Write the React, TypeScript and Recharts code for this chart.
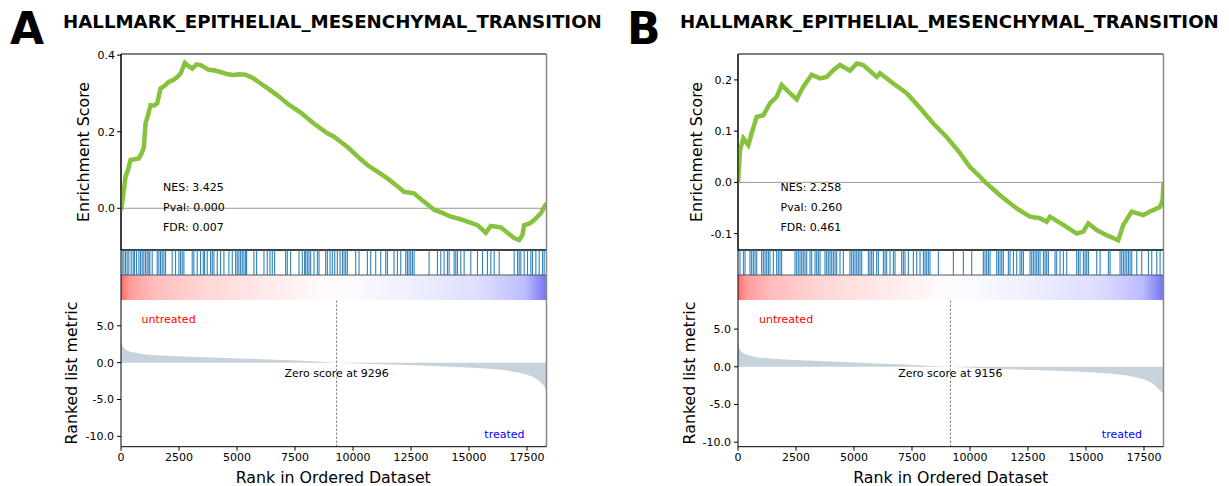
import React from 'react';
import {
  ComposedChart,
  LineChart,
  Line,
  Area,
  Scatter,
  XAxis,
  YAxis,
  ReferenceLine,
  ReferenceArea,
} from 'recharts';

const N_GENES = 18340;
const GENE_SET = 'HALLMARK_EPITHELIAL_MESENCHYMAL_TRANSITION';
const rankTicks = [0, 2500, 5000, 7500, 10000, 12500, 15000, 17500];
const metricTicks = [-10, -5, 0, 5];

// panel A: running enrichment score [rank, ES]
const esA: [number, number][] = [
  [0, 0], [20, 0.0], [194, 0.082], [300, 0.1], [410, 0.126], [768, 0.13], [900, 0.145], [985, 0.16],
  [1057, 0.222], [1150, 0.24], [1273, 0.269], [1420, 0.268], [1560, 0.274], [1704, 0.313], [1880, 0.32],
  [2062, 0.33], [2250, 0.335], [2424, 0.343], [2567, 0.352], [2754, 0.38], [2900, 0.372], [3070, 0.365],
  [3250, 0.376], [3430, 0.374], [3600, 0.368], [3788, 0.362], [4050, 0.36], [4292, 0.356], [4600, 0.35],
  [4866, 0.348], [5100, 0.35], [5371, 0.349], [5700, 0.34], [6018, 0.326], [6400, 0.31], [6739, 0.295],
  [7250, 0.27], [7744, 0.25], [8300, 0.222], [8895, 0.196], [9180, 0.187], [9800, 0.158], [10332, 0.128],
  [10622, 0.113], [11100, 0.094], [11484, 0.078], [11900, 0.058], [12200, 0.043], [12632, 0.039],
  [13000, 0.02], [13494, -0.004], [13850, -0.012], [14215, -0.022], [14600, -0.028], [14935, -0.035],
  [15366, -0.044], [15724, -0.064], [15940, -0.046], [16372, -0.05], [16700, -0.066], [16946, -0.078],
  [17162, -0.083], [17300, -0.07], [17377, -0.044], [17600, -0.04], [17808, -0.031], [18098, -0.013],
  [18270, 0.006], [18340, 0.0],
];

// panel A: hit positions (ranks)
const hitsA = [
  50, 122, 194, 266, 338, 439, 525, 582, 669, 769, 841, 913, 985, 1057, 1129, 1201, 1244, 1345,
  1560, 1632, 1704, 1776, 1848, 1920, 2207, 2351, 2495, 2567, 2639, 2711,
  3070, 3142, 3286, 3430, 3545, 3602, 3717, 3861, 3933, 4005, 4149, 4292, 4436,
  4652, 4796, 4940, 5011, 5083, 5155, 5227, 5299, 5371, 5414, 5730, 5845,
  6162, 6305, 6420, 6521, 6622, 7097, 7168, 7312,
  7672, 7816, 7916, 7959, 8031, 8103, 8175, 8319, 8463, 8535,
  8822, 8894, 9009, 9110, 9211, 9325, 9440, 9541, 9613, 9685, 9757, 10116, 10260,
  10620, 10763, 10979, 11195, 11411, 11483, 11770, 11914, 12058,
  12274, 12345, 12417, 12489, 12561, 12633, 13280,
  13639, 13783, 13927, 14071, 14143, 14358, 14430, 14502, 14646, 14790,
  15077, 15365, 15581, 15796, 15940, 16084, 16300,
  16947, 17091, 17163, 17234, 17378, 17522, 17666, 17738, 17882, 18026, 18169, 18241,
];

// panel A: ranked list metric [rank, value]
const metricA: [number, number][] = [
  [0, 3.6], [20, 2.9], [60, 2.3], [150, 1.9], [300, 1.6], [600, 1.35], [1000, 1.15], [1500, 1.02],
  [2500, 0.88], [4000, 0.7], [5500, 0.52], [7000, 0.37], [8200, 0.2], [9296, 0], [10500, -0.15],
  [12000, -0.3], [13500, -0.45], [14500, -0.58], [15500, -0.75], [16500, -1.0], [17100, -1.35],
  [17600, -1.75], [17950, -2.3], [18150, -2.9], [18280, -3.4], [18340, -3.8],
];

// panel B
const esB: [number, number][] = [
  [0, 0], [86, 0.063], [230, 0.086], [445, 0.073], [590, 0.096], [805, 0.128], [1092, 0.131],
  [1379, 0.154], [1667, 0.167], [1883, 0.19], [2241, 0.174], [2529, 0.162], [2816, 0.187],
  [3176, 0.21], [3534, 0.203], [3822, 0.206], [4109, 0.219], [4396, 0.229], [4827, 0.218],
  [5116, 0.232], [5400, 0.229], [5978, 0.206], [6120, 0.213], [6694, 0.193], [7271, 0.174],
  [7850, 0.145], [8417, 0.115], [9000, 0.088], [9568, 0.057], [10000, 0.03], [10430, 0.011],
  [10573, 0.004], [11292, -0.025], [12012, -0.051], [12585, -0.067], [13016, -0.07], [13303, -0.077],
  [13447, -0.067], [14021, -0.083], [14596, -0.1], [14883, -0.096], [15098, -0.08], [15459, -0.093],
  [15890, -0.103], [16391, -0.113], [16607, -0.083], [16968, -0.057], [17468, -0.064], [17757, -0.057],
  [18187, -0.048], [18300, -0.035], [18340, 0.0],
];

const hitsB = [
  86, 230, 302, 517, 589, 661, 733, 805, 1020, 1092, 1164, 1236, 1308, 1379, 1523, 1667, 1739, 1811, 1882,
  2457, 2529, 2601, 2673, 2745, 2816, 2888, 2960, 3104, 3176, 3319, 3391, 3463, 3535,
  3750, 3822, 3894, 3966, 4038, 4110, 4182, 4253, 4397, 4541,
  4828, 4900, 4972, 5044, 5116, 5187, 5259, 5331, 5619, 5690, 5762, 5834, 5978, 6050,
  6265, 6337, 6409, 6553, 6696, 6768, 7056, 7127, 7199, 7343,
  7559, 7702, 7846, 7990, 8062, 8133, 8205, 8277, 8636, 9283, 9714, 10073,
  10576, 10648, 10720, 10792, 10864, 11151, 11223, 11295, 11367, 11438,
  11654, 11726, 11870, 12013, 12157, 12229, 12301,
  12588, 12660, 12732, 12804, 12875, 12947, 13019, 13163, 13235, 13307, 13378,
  13666, 13738, 13881, 14025, 14169, 14600, 14672, 14744, 14887, 14959, 15031, 15103,
  15462, 15606, 15965, 16037, 16468, 16540, 16611, 16683, 16755, 16827, 16899, 16971,
  17186, 17402, 17690, 17833, 18049, 18193,
];

const metricB: [number, number][] = [
  [0, 3.8], [20, 3.0], [60, 2.4], [150, 2.0], [300, 1.7], [600, 1.4], [1000, 1.2], [1500, 1.05],
  [2500, 0.9], [4000, 0.7], [5500, 0.5], [7000, 0.33], [8200, 0.15], [9156, 0], [10500, -0.18],
  [12000, -0.35], [13500, -0.5], [14500, -0.62], [15500, -0.8], [16500, -1.05], [17100, -1.35],
  [17600, -1.8], [17950, -2.4], [18150, -3.0], [18280, -3.4], [18340, -3.6],
];

const statsA = ['NES: 3.425', 'Pval: 0.000', 'FDR: 0.007'];
const statsB = ['NES: 2.258', 'Pval: 0.260', 'FDR: 0.461'];

const FONT = '"DejaVu Sans", sans-serif';
const PLOT_W = 425.5;
const GREEN = '#86c23e';

const gradStops: [number, string][] = [
  [0, '#ff6a6a'], [0.02, '#ff9c9c'], [0.08, '#ffbdbd'], [0.2, '#ffd7d7'], [0.35, '#ffeaea'],
  [0.47, '#fffafa'], [0.55, '#fafaff'], [0.7, '#ededff'], [0.85, '#dcdcff'], [0.95, '#bcbcff'],
  [1, '#7474ee'],
];

function HitMark(props: any) {
  const { cx, cy } = props;
  if (cx == null || cy == null) return null;
  return (
    <line x1={cx} x2={cx} y1={cy - 12.5} y2={cy + 12.5} stroke="#1f77b4" strokeWidth={1.1} strokeOpacity={0.92} />
  );
}

const tickStyle = { fontSize: 11, fill: '#000', fontFamily: FONT };

function Panel({ x0, es, esDomain, esTicks, hits, metric, metricDomain, zeroRank, gradId }: {
  x0: number;
  es: [number, number][];
  esDomain: [number, number];
  esTicks: number[];
  hits: number[];
  metric: [number, number][];
  metricDomain: [number, number];
  zeroRank: number;
  gradId: string;
}) {
  const esData = es.map(([rank, v]) => ({ rank, es: v }));
  const hitData = hits.map((rank) => ({ rank, y: 1.5 }));
  const metricData = metric.map(([rank, v]) => ({ rank, v }));

  return (
    <>
      {/* running enrichment score */}
      <div style={{ position: 'absolute', left: x0 - 60, top: 44 }}>
        <LineChart width={60 + PLOT_W + 5} height={208} data={esData} margin={{ top: 10, right: 5, bottom: 2, left: 0 }}>
          <XAxis dataKey="rank" type="number" domain={[0, N_GENES]} hide allowDataOverflow />
          <YAxis
            type="number"
            domain={esDomain}
            ticks={esTicks}
            allowDataOverflow
            width={60}
            tickSize={4}
            tickMargin={2}
            tick={tickStyle}
            tickFormatter={(v: number) => v.toFixed(1)}
            axisLine={{ stroke: '#000' }}
            tickLine={{ stroke: '#000' }}
          />
          <ReferenceLine y={0} stroke="#999" />
          <Line dataKey="es" type="linear" stroke={GREEN} strokeWidth={4.5} dot={false} isAnimationActive={false} />
          <ReferenceArea x1={0} x2={N_GENES} y1={esDomain[0]} y2={esDomain[1]} fill="none" stroke="#000" />
          <ReferenceLine x={N_GENES} stroke="#888" strokeWidth={1.5} />
        </LineChart>
      </div>

      {/* hits + rank colour bar */}
      <div style={{ position: 'absolute', left: x0 - 2, top: 248 }}>
        <ComposedChart width={PLOT_W + 4} height={54} data={hitData} margin={{ top: 2, right: 2, bottom: 2, left: 2 }}>
          <defs>
            <linearGradient id={gradId} x1="0" y1="0" x2="1" y2="0">
              {gradStops.map(([o, c]) => (
                <stop key={o} offset={o} stopColor={c} />
              ))}
            </linearGradient>
          </defs>
          <XAxis dataKey="rank" type="number" domain={[0, N_GENES]} hide allowDataOverflow />
          <YAxis type="number" domain={[0, 2]} hide allowDataOverflow />
          <ReferenceArea x1={0} x2={N_GENES} y1={0} y2={1} fill={`url(#${gradId})`} fillOpacity={1} stroke="none" />
          <Scatter dataKey="y" shape={(p: any) => <HitMark {...p} />} isAnimationActive={false} />
          <ReferenceLine y={2} stroke="#000" />
          <ReferenceLine y={1} stroke="#555" />
          <ReferenceLine x={0} stroke="#000" />
          <ReferenceLine x={N_GENES} stroke="#888" strokeWidth={1.5} />
        </ComposedChart>
      </div>

      {/* ranked list metric */}
      <div style={{ position: 'absolute', left: x0 - 60, top: 295 }}>
        <ComposedChart width={60 + PLOT_W + 5} height={181.7} data={metricData} margin={{ top: 5, right: 5, bottom: 0, left: 0 }}>
          <XAxis
            dataKey="rank"
            type="number"
            domain={[0, N_GENES]}
            ticks={rankTicks}
            allowDataOverflow
            height={30}
            tickSize={4}
            tickMargin={3}
            tick={tickStyle}
            axisLine={{ stroke: '#000' }}
            tickLine={{ stroke: '#000' }}
          />
          <YAxis
            type="number"
            domain={metricDomain}
            ticks={metricTicks}
            allowDataOverflow
            width={60}
            tickSize={4}
            tickMargin={3}
            tick={tickStyle}
            tickFormatter={(v: number) => v.toFixed(1)}
            axisLine={{ stroke: '#000' }}
            tickLine={{ stroke: '#000' }}
          />
          <Area dataKey="v" type="monotone" fill="#c8d2db" fillOpacity={1} stroke="none" isAnimationActive={false} />
          <ReferenceLine
            x={zeroRank}
            stroke="#666"
            strokeDasharray="2 2"
            label={{ value: `Zero score at ${zeroRank}`, position: 'center', fontSize: 11, fill: '#000', fontFamily: FONT }}
          />
          <ReferenceLine x={N_GENES} stroke="#888" strokeWidth={1.5} />
        </ComposedChart>
      </div>
    </>
  );
}

function Annotations({ x0, letterX, stats }: { x0: number; letterX: number; stats: string[] }) {
  const cx = x0 + PLOT_W / 2;
  return (
    <>
      <text x={letterX} y={44} fontSize={44} fontWeight="bold">{letterX < 300 ? 'A' : 'B'}</text>
      <text x={letterX + 53} y={28.3} fontSize={18.2} fontWeight="bold">{GENE_SET}</text>
      {stats.map((s, i) => (
        <text key={s} x={x0 + 42.5} y={190.7 + i * 20} fontSize={11}>{s}</text>
      ))}
      <text x={x0 + 21} y={323} fontSize={11} fill="#ff0000">untreated</text>
      <text x={x0 + 404} y={438} fontSize={11} fill="#0000ff" textAnchor="end">treated</text>
      <text x={cx} y={483} fontSize={15.8} textAnchor="middle">Rank in Ordered Dataset</text>
    </>
  );
}

export default function App() {
  const xA = 120.5;
  const xB = 738;
  return (
    <div style={{ position: 'absolute', left: 0, top: 0, width: 1229, height: 486, background: '#fff', fontFamily: FONT, overflow: 'hidden' }}>
      <Panel x0={xA} es={esA} esDomain={[-0.109, 0.403]} esTicks={[0, 0.2, 0.4]} hits={hitsA}
        metric={metricA} metricDomain={[-11.4, 8.5]} zeroRank={9296} gradId="gradA" />
      <Panel x0={xB} es={esB} esDomain={[-0.132, 0.2506]} esTicks={[-0.1, 0, 0.1, 0.2]} hits={hitsB}
        metric={metricB} metricDomain={[-10.6, 8.86]} zeroRank={9156} gradId="gradB" />
      <svg width={1229} height={486} style={{ position: 'absolute', left: 0, top: 0, pointerEvents: 'none', fontFamily: FONT }}>
        <Annotations x0={xA} letterX={10} stats={statsA} />
        <Annotations x0={xB} letterX={627} stats={statsB} />
        <text transform="translate(88.5,152) rotate(-90)" fontSize={15.8} textAnchor="middle">Enrichment Score</text>
        <text transform="translate(76.5,373) rotate(-90)" fontSize={15.8} textAnchor="middle">Ranked list metric</text>
        <text transform="translate(701.5,152) rotate(-90)" fontSize={15.8} textAnchor="middle">Enrichment Score</text>
        <text transform="translate(695,373) rotate(-90)" fontSize={15.8} textAnchor="middle">Ranked list metric</text>
      </svg>
    </div>
  );
}
